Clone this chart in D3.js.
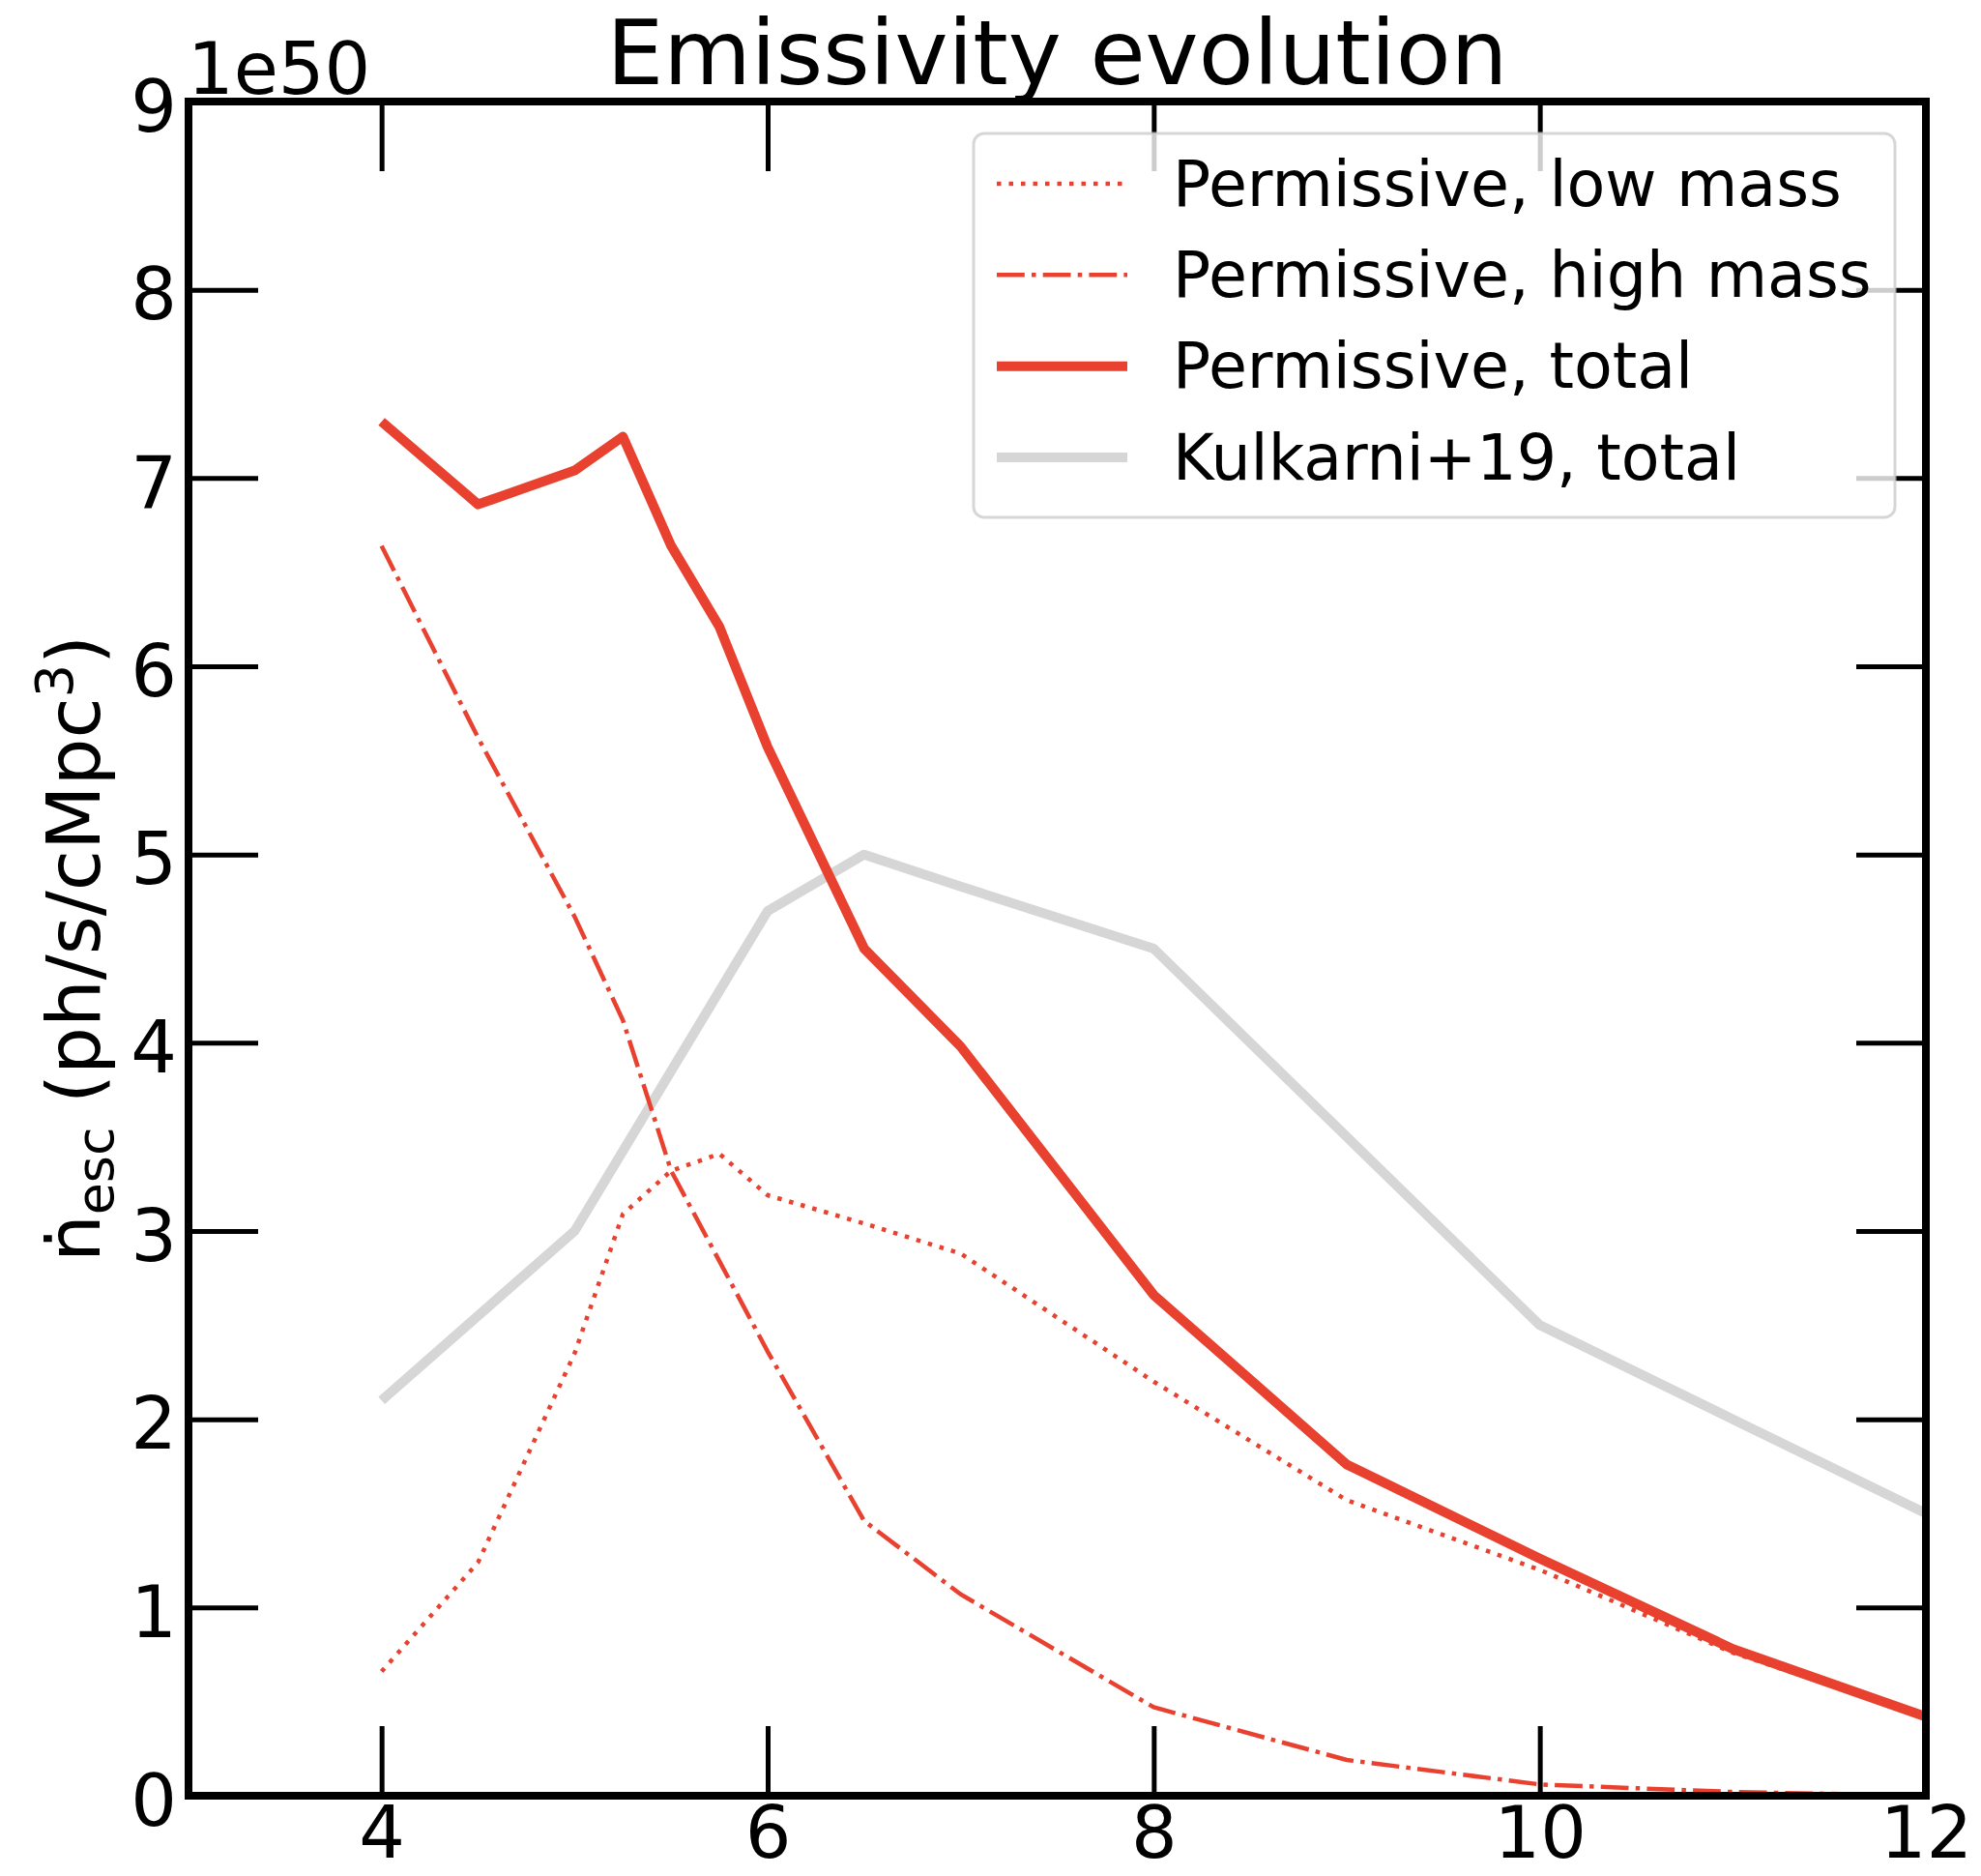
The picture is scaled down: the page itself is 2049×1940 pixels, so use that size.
<!DOCTYPE html>
<html>
<head>
<meta charset="utf-8">
<script src="https://cdn.jsdelivr.net/npm/d3@7"></script>
<style>
  html, body { margin: 0; padding: 0; background: #fff; }
  text { font-family: "DejaVu Sans", sans-serif; }
</style>
</head>
<body>
<div id="chart"></div>
<script>
// redshift grid of the simulation outputs
const redshift = [4, 4.5, 5, 5.25, 5.5, 5.75, 6, 6.5, 7, 8, 9, 10, 11, 12];
const lowMass  = [0.66, 1.24, 2.35, 3.09, 3.32, 3.41, 3.19, 3.04, 2.88, 2.20, 1.57, 1.20, 0.76, 0.42];
const highMass = [6.64, 5.62, 4.67, 4.12, 3.32, 2.84, 2.36, 1.46, 1.07, 0.47, 0.19, 0.06, 0.02, 0.0];
const total    = [7.30, 6.86, 7.04, 7.22, 6.64, 6.21, 5.57, 4.50, 3.98, 2.66, 1.76, 1.26, 0.78, 0.42];

// Kulkarni+19 comparison
const kulkarniZ = [4, 5, 6, 6.5, 7, 8, 9, 10, 11, 12];
const kulkarni  = [2.1, 3.0, 4.7, 5.0, 4.83, 4.5, 3.5, 2.5, 2.0, 1.5];

const xTicks = [4, 6, 8, 10, 12];
const yTicks = [0, 1, 2, 3, 4, 5, 6, 7, 8, 9];
const legendLabels = ["Permissive, low mass", "Permissive, high mass", "Permissive, total", "Kulkarni+19, total"];

const W = 2049, H = 1940;
const margin = { top: 105, right: 57, bottom: 83, left: 195 },
  width = W - margin.left - margin.right,
  height = H - margin.top - margin.bottom;

const red = "#e8412f", grey = "#d6d6d6";
const thin = 4.5, thick = 10;
const tickLen = 72, tickFont = 75;

const svg = d3.select("#chart")
  .append("svg")
  .attr("width", W)
  .attr("height", H);

const g = svg.append("g")
  .attr("transform", `translate(${margin.left},${margin.top})`);

const x = d3.scaleLinear().domain([3, 12]).range([0, width]);
const y = d3.scaleLinear().domain([0, 9]).range([height, 0]);

g.append("clipPath").attr("id", "clip")
  .append("rect").attr("width", width).attr("height", height);

const line = d3.line().x(d => x(d[0])).y(d => y(d[1]));
const plot = g.append("g").attr("clip-path", "url(#clip)");

// Kulkarni first so it sits underneath
plot.append("path")
  .datum(d3.zip(kulkarniZ, kulkarni))
  .attr("fill", "none")
  .attr("stroke", grey)
  .attr("stroke-width", thick)
  .attr("stroke-linejoin", "round")
  .attr("d", line);

plot.append("path")
  .datum(d3.zip(redshift, lowMass))
  .attr("fill", "none")
  .attr("stroke", red)
  .attr("stroke-width", thin)
  .attr("stroke-dasharray", "4.5 8")
  .attr("d", line);

plot.append("path")
  .datum(d3.zip(redshift, highMass))
  .attr("fill", "none")
  .attr("stroke", red)
  .attr("stroke-width", thin)
  .attr("stroke-dasharray", "28.8 7.2 4.5 7.2")
  .attr("d", line);

plot.append("path")
  .datum(d3.zip(redshift, total))
  .attr("fill", "none")
  .attr("stroke", red)
  .attr("stroke-width", thick)
  .attr("stroke-linejoin", "round")
  .attr("d", line);

// Axes: inward ticks on all four sides
function styleAxis(sel) {
  sel.select(".domain").remove();
  sel.selectAll(".tick line").attr("stroke", "#000").attr("stroke-width", 5);
  sel.selectAll(".tick text")
    .attr("fill", "#000")
    .style("font-size", tickFont + "px")
    .style("font-family", "'DejaVu Sans', sans-serif");
}

g.append("g")
  .attr("transform", `translate(0,${height})`)
  .call(d3.axisBottom(x).tickValues(xTicks).tickSize(-tickLen).tickPadding(11).tickFormat(d3.format("d")))
  .call(styleAxis);

g.append("g")
  .call(d3.axisTop(x).tickValues(xTicks).tickSize(-tickLen).tickFormat(""))
  .call(styleAxis);

g.append("g")
  .call(d3.axisLeft(y).tickValues(yTicks).tickSize(-tickLen).tickPadding(12).tickFormat(d3.format("d")))
  .call(styleAxis)
  .selectAll(".tick text").attr("dy", "0.4em");

g.append("g")
  .attr("transform", `translate(${width},0)`)
  .call(d3.axisRight(y).tickValues(yTicks).tickSize(-tickLen).tickFormat(""))
  .call(styleAxis);

// frame
g.append("rect")
  .attr("width", width)
  .attr("height", height)
  .attr("fill", "none")
  .attr("stroke", "#000")
  .attr("stroke-width", 8);

// offset text
g.append("text")
  .attr("x", -1)
  .attr("y", -8)
  .style("font-size", tickFont + "px")
  .text("1e50");

// title
svg.append("text")
  .attr("x", margin.left + width / 2)
  .attr("y", 87)
  .attr("text-anchor", "middle")
  .style("font-size", "93px")
  .text("Emissivity evolution");

// y label
const yl = svg.append("text")
  .attr("transform", `translate(103,${margin.top + height / 2}) rotate(-90)`)
  .attr("text-anchor", "middle")
  .style("font-size", "77px");
yl.append("tspan").text("\u1E45");
yl.append("tspan").attr("dy", 14).style("font-size", "70%").text("esc");
yl.append("tspan").attr("dy", -14).text(" (ph/s/cMpc");
yl.append("tspan").attr("dy", -28).style("font-size", "70%").text("3");
yl.append("tspan").attr("dy", 28).text(")");

// legend
const legend = svg.append("g");
legend.append("rect")
  .attr("x", 1007).attr("y", 138)
  .attr("width", 953).attr("height", 397)
  .attr("rx", 11)
  .attr("fill", "#fff").attr("fill-opacity", 0.8)
  .attr("stroke", "#cccccc").attr("stroke-opacity", 0.8)
  .attr("stroke-width", 3);

const legendStyles = [
  { color: red, w: thin, dash: "4.5 8" },
  { color: red, w: thin, dash: "28.8 7.2 4.5 7.2" },
  { color: red, w: thick, dash: null },
  { color: grey, w: thick, dash: null }
];
const legendY = d3.scaleLinear().domain([0, 3]).range([190, 473]);

const item = legend.selectAll(".item")
  .data(legendLabels)
  .enter()
  .append("g")
  .attr("class", "item")
  .attr("transform", (d, i) => `translate(0,${legendY(i)})`);

item.append("line")
  .attr("x1", 1031).attr("x2", 1166)
  .attr("stroke", (d, i) => legendStyles[i].color)
  .attr("stroke-width", (d, i) => legendStyles[i].w)
  .attr("stroke-dasharray", (d, i) => legendStyles[i].dash);

item.append("text")
  .attr("x", 1213)
  .attr("dy", "0.35em")
  .style("font-size", "65px")
  .text(d => d);
</script>
</body>
</html>
